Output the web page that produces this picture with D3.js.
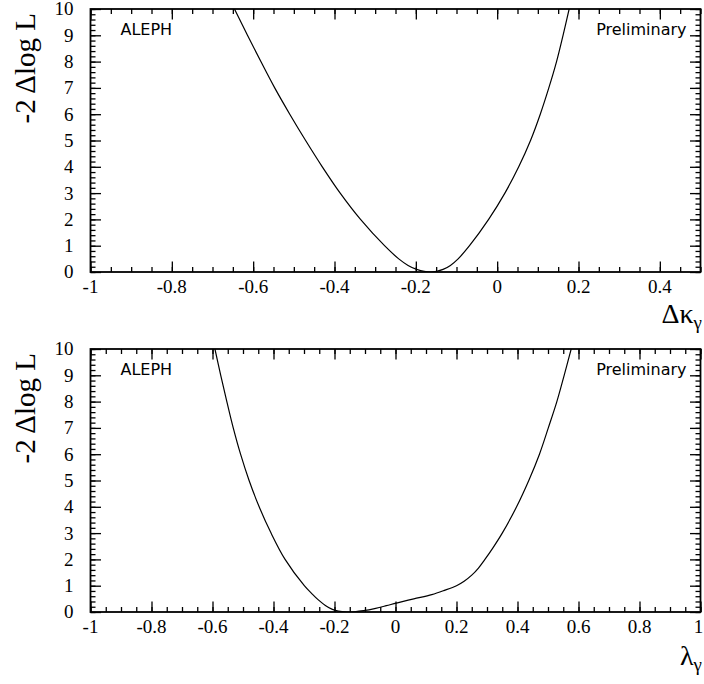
<!DOCTYPE html>
<html>
<head>
<meta charset="utf-8">
<script src="https://cdn.jsdelivr.net/npm/d3@7"></script>
<style>
  body { margin: 0; background: #fff; }
  svg { display: block; }
  text.lab { font-family: "Liberation Serif", "Times New Roman", serif; font-size: 19px; fill: #000; }
</style>
</head>
<body>
<svg id="chart" width="704" height="684"></svg>
<script>
// top panel: -2 Δlog L vs Δκγ
const kappaX = [-0.646, -0.614, -0.581, -0.547, -0.510, -0.471, -0.430, -0.386, -0.336, -0.277,
    -0.242, -0.219, -0.198, -0.163, -0.133, -0.115, -0.096, -0.068, -0.021, 0.019,
    0.053, 0.082, 0.106, 0.127, 0.146, 0.162, 0.177];
const kappaLogL = [10, 9, 8, 7, 6, 5, 4, 3, 2, 1,
    0.5, 0.25, 0.1, 0, 0.1, 0.25, 0.5, 1, 2, 3,
    4, 5, 6, 7, 8, 9, 10];

// bottom panel: -2 Δlog L vs λγ
const lambdaX = [-0.592, -0.573, -0.553, -0.532, -0.508, -0.480, -0.447, -0.408, -0.362, -0.299,
    -0.276, -0.253, -0.230, -0.207, -0.187, -0.160, -0.135, -0.105, -0.065, -0.030,
    0.003, 0.060, 0.119, 0.160, 0.200, 0.225, 0.250, 0.272, 0.292, 0.320,
    0.350, 0.397, 0.437, 0.472, 0.501, 0.529, 0.553, 0.576];
const lambdaLogL = [10, 9, 8, 7, 6, 5, 4, 3, 2, 1,
    0.72, 0.46, 0.25, 0.1, 0.03, 0, 0.01, 0.05, 0.14, 0.24,
    0.34, 0.5, 0.66, 0.82, 1.0, 1.17, 1.4, 1.67, 1.98, 2.45,
    3, 4, 5, 6, 7, 8, 9, 10];

const yTickValues = [0, 1, 2, 3, 4, 5, 6, 7, 8, 9, 10];
const kappaTickValues = [-1, -0.8, -0.6, -0.4, -0.2, 0, 0.2, 0.4];
const lambdaTickValues = [-1, -0.8, -0.6, -0.4, -0.2, 0, 0.2, 0.4, 0.6, 0.8, 1];

const svg = d3.select("#chart");
const left = 90.5, width = 610, height = 263;
const serif = "'Liberation Serif', 'Times New Roman', serif";

function fmt(d) {
    return String(+d.toFixed(1)); // plain hyphen minus, like the original
}

function drawPanel(cfg) {
    const g = svg.append("g").attr("transform", `translate(${left},${cfg.top})`);

    const x = d3.scaleLinear().domain(cfg.xDomain).range([0, width]);
    const y = d3.scaleLinear().domain([0, 10]).range([height, 0]);

    const xMinor = d3.range(cfg.xDomain[0], cfg.xDomain[1] + 1e-9, 0.05);
    const yMinor = d3.range(0, 10 + 1e-9, 0.2);

    // ticks on all four sides, pointing inwards; minor then major
    const axes = [
        [d3.axisBottom(x), xMinor, cfg.xTicks, `translate(0,${height})`],
        [d3.axisTop(x), xMinor, cfg.xTicks, null],
        [d3.axisLeft(y), yMinor, yTickValues, null],
        [d3.axisRight(y), yMinor, yTickValues, `translate(${width},0)`]
    ];
    axes.forEach(([ax, minor, major, tr]) => {
        const a = g.append("g").call(ax.tickValues(minor).tickSize(-5).tickFormat(""));
        const b = g.append("g").call(ax.tickValues(major).tickSize(-10.5).tickFormat(""));
        if (tr) { a.attr("transform", tr); b.attr("transform", tr); }
    });
    g.selectAll(".domain").remove();
    g.selectAll(".tick line").attr("stroke", "#000").attr("stroke-width", 1.3);
    g.selectAll(".tick text").remove();

    // tick labels
    g.append("g").selectAll("text")
        .data(cfg.xTicks)
        .join("text")
        .attr("class", "lab")
        .attr("x", d => x(d) - (d === 1 ? 2 : 0))
        .attr("y", height + 21)
        .attr("text-anchor", "middle")
        .text(fmt);

    g.append("g").selectAll("text")
        .data(yTickValues)
        .join("text")
        .attr("class", "lab")
        .attr("x", -17)
        .attr("y", d => y(d))
        .attr("dy", "0.34em")
        .attr("text-anchor", "end")
        .text(d => d);

    // frame
    g.append("rect")
        .attr("width", width)
        .attr("height", height)
        .attr("fill", "none")
        .attr("stroke", "#000")
        .attr("stroke-width", 1.8);

    // curve
    const clipId = "clip-" + cfg.name;
    g.append("clipPath").attr("id", clipId)
        .append("rect").attr("width", width).attr("height", height);

    const pts = cfg.xs.map((v, i) => [v, cfg.ys[i]]);
    const line = d3.line()
        .x(d => x(d[0]))
        .y(d => y(d[1]))
        .curve(d3.curveCatmullRom.alpha(0.5));

    g.append("path")
        .attr("clip-path", `url(#${clipId})`)
        .attr("d", line(pts))
        .attr("fill", "none")
        .attr("stroke", "#000")
        .attr("stroke-width", 1.2);

    // labels inside the frame
    g.append("text")
        .attr("x", 30)
        .attr("y", 26)
        .style("font-family", "'DejaVu Sans', sans-serif")
        .style("font-size", "16px")
        .text("ALEPH");
    g.append("text")
        .attr("x", width - 14)
        .attr("y", 26)
        .attr("text-anchor", "end")
        .style("font-family", "'DejaVu Sans', sans-serif")
        .style("font-size", "16px")
        .text("Preliminary");

    // y title
    g.append("text")
        .attr("transform", `translate(${35 - left},4) rotate(-90)`)
        .attr("text-anchor", "end")
        .style("font-family", serif)
        .style("font-size", "29px")
        .text("-2 \u0394log L");

    // x title with subscript
    const t = g.append("text")
        .attr("x", width + 1.5)
        .attr("y", height + cfg.titleDy)
        .attr("text-anchor", "end")
        .style("font-family", serif)
        .style("font-size", "28px")
        .text(cfg.xTitle);
    t.append("tspan")
        .attr("dy", 6)
        .style("font-size", "19px")
        .text("\u03b3");
}

drawPanel({
    name: "kappa",
    top: 9,
    xDomain: [-1, 0.5],
    xTicks: kappaTickValues,
    xs: kappaX,
    ys: kappaLogL,
    xTitle: "\u0394\u03ba",
    titleDy: 51
});

drawPanel({
    name: "lambda",
    top: 349,
    xDomain: [-1, 1],
    xTicks: lambdaTickValues,
    xs: lambdaX,
    ys: lambdaLogL,
    xTitle: "\u03bb",
    titleDy: 53
});
</script>
</body>
</html>
